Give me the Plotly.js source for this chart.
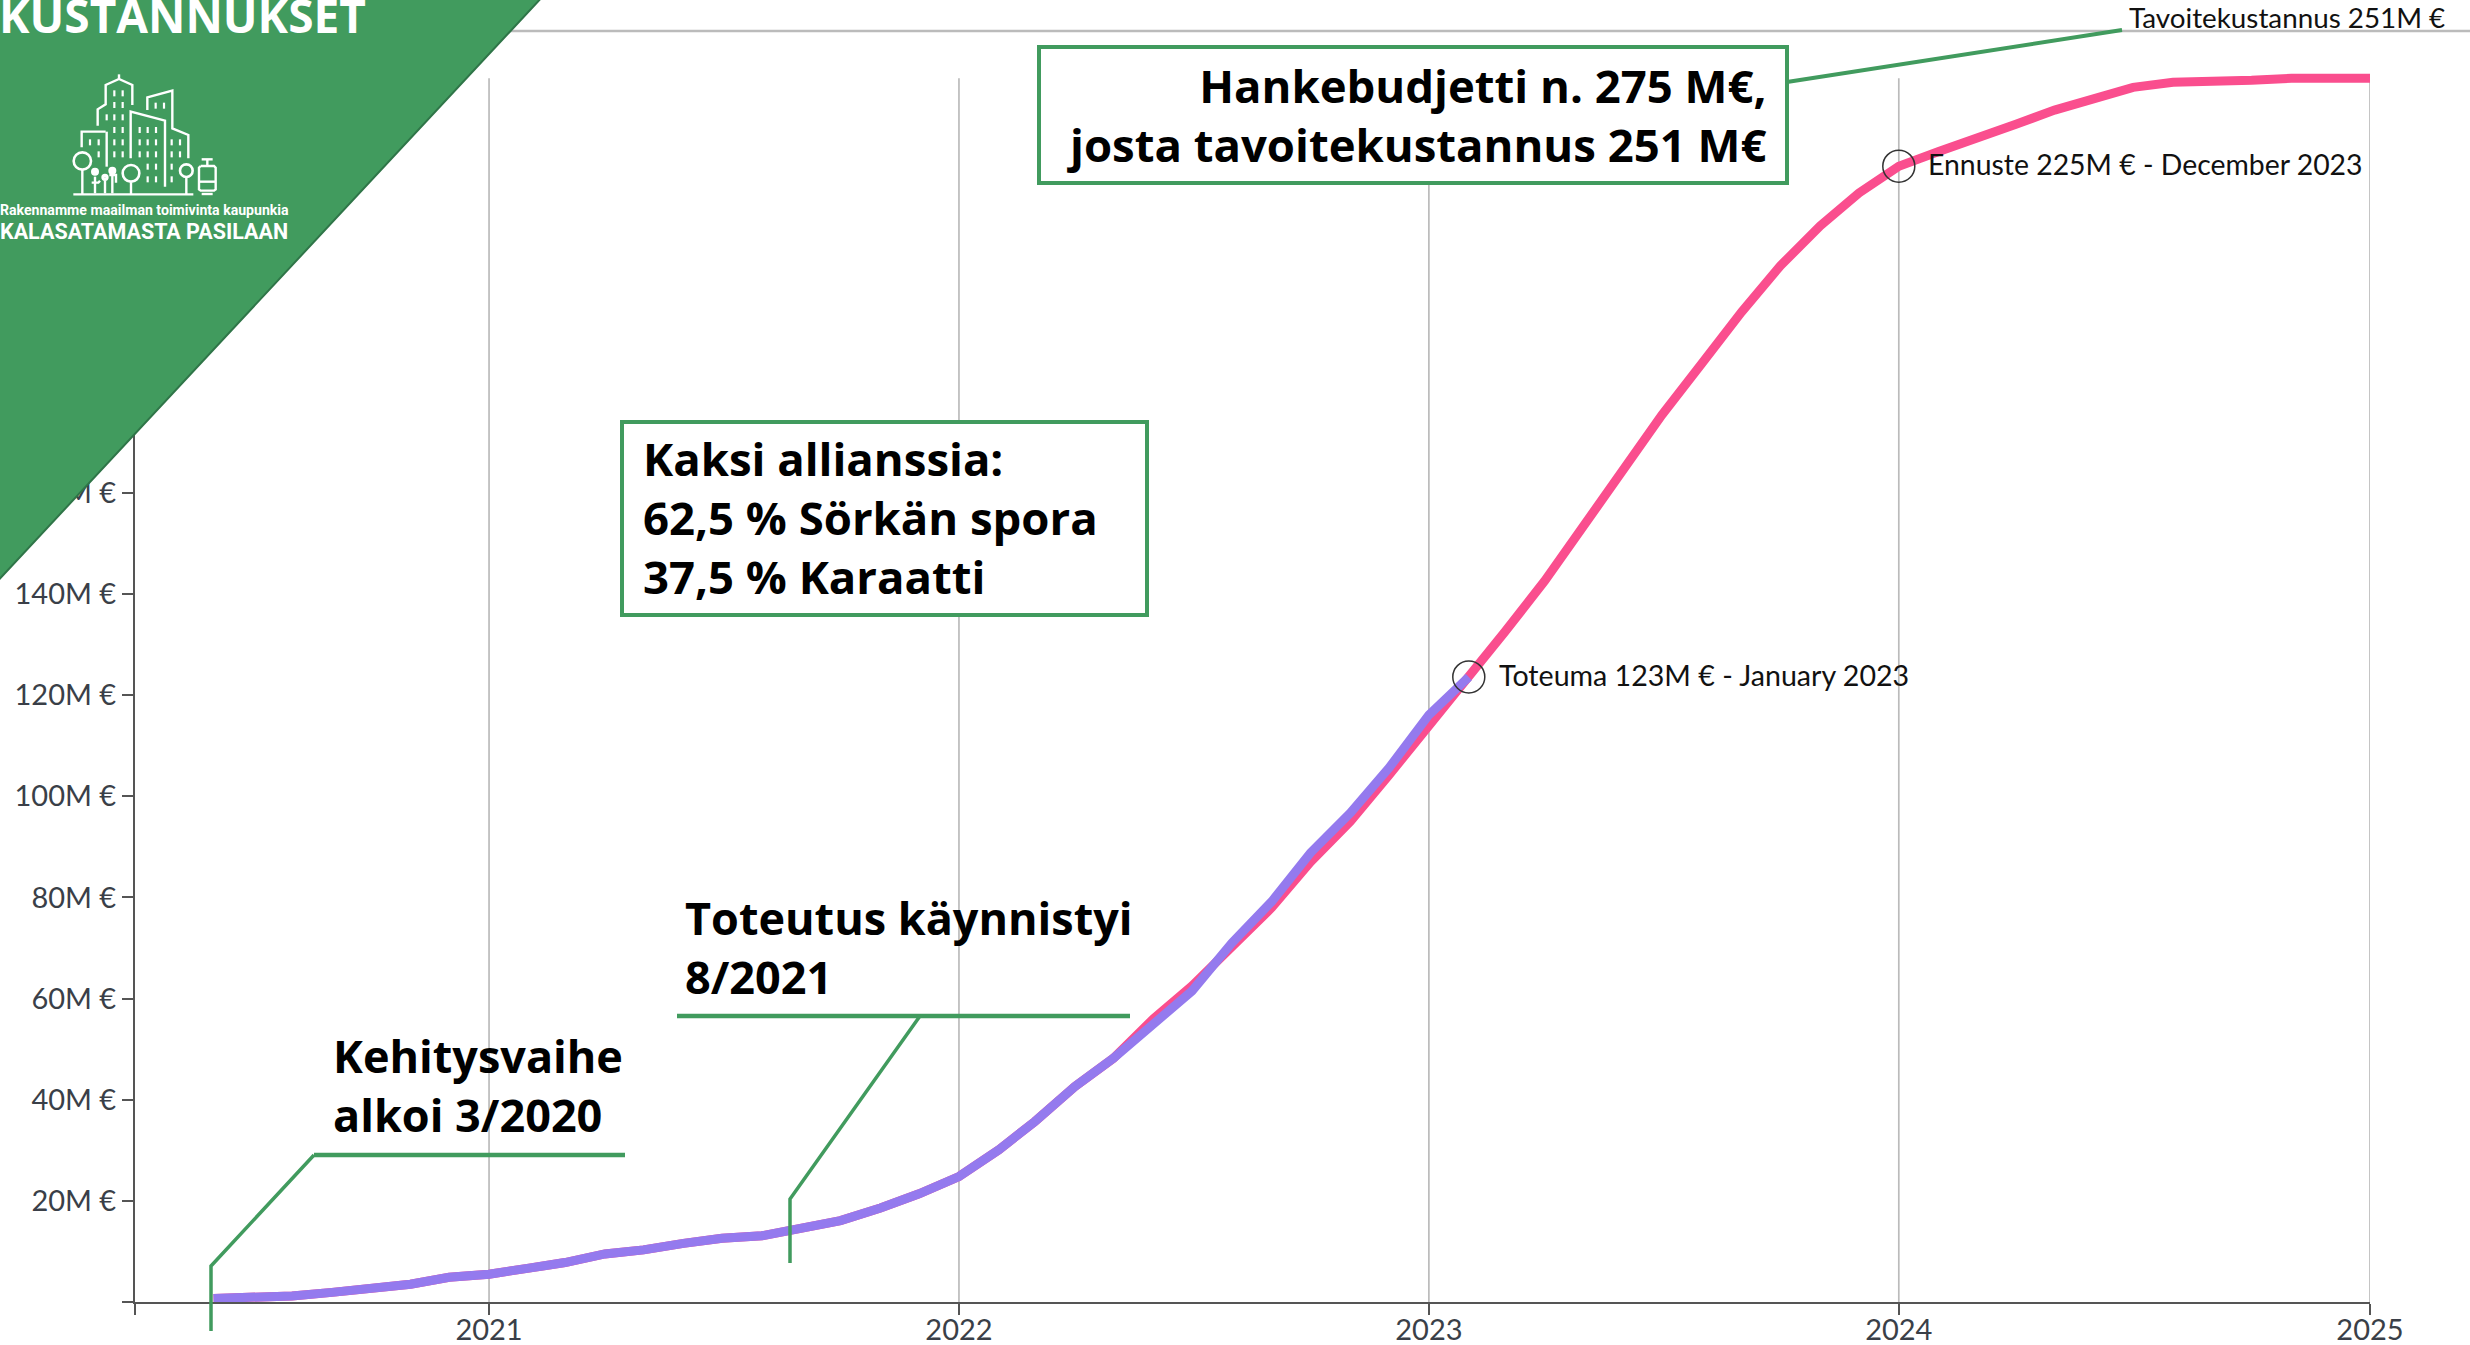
<!DOCTYPE html>
<html><head><meta charset="utf-8">
<script src="https://cdn.plot.ly/plotly-3.0.1.min.js"></script>
<style>html,body{margin:0;padding:0;background:#fff;overflow:hidden}#c{width:2470px;height:1345px}</style>
</head><body><div id="c"></div>
<script>
// ---- data (M€) ----
const months = ['2020-06-01','2020-07-01','2020-08-01','2020-09-01','2020-10-01','2020-11-01','2020-12-01',
'2021-01-01','2021-02-01','2021-03-01','2021-04-01','2021-05-01','2021-06-01','2021-07-01','2021-08-01','2021-09-01','2021-10-01','2021-11-01','2021-12-01',
'2022-01-01','2022-02-01','2022-03-01','2022-04-01','2022-05-01','2022-06-01','2022-07-01','2022-08-01','2022-09-01','2022-10-01','2022-11-01','2022-12-01',
'2023-01-01','2023-02-01','2023-03-01','2023-04-01','2023-05-01','2023-06-01','2023-07-01','2023-08-01','2023-09-01','2023-10-01','2023-11-01','2023-12-01',
'2024-01-01','2024-02-01','2024-03-01','2024-04-01','2024-05-01','2024-06-01','2024-07-01','2024-08-01','2024-09-01','2024-10-01','2024-11-01','2024-12-01','2025-01-01'];
const toteuma = [0.7,0.9,1.2,1.9,2.5,3.5,4.9,
5.5,6.7,7.8,9.5,10.3,11.6,12.6,13.1,14.4,16.1,18.6,21.4,
24.8,30.1,35.7,42.6,48.2,55.1,61.5,71,79.2,88.8,96.7,105.6,
116.1,123.6];
const ennuste = [0.7,0.9,1.2,1.9,2.5,3.5,4.9,
5.5,6.7,7.8,9.5,10.3,11.6,12.6,13.1,14.4,16.1,18.6,21.4,
24.8,30.1,35.7,42.6,48.2,56,62.5,70,78,87,95,104.2,
113.8,123.6,132.5,142.6,153.6,164.8,175.4,185.6,195.8,204.9,212.8,219.3,
224.6,227.5,230.3,232.9,235.7,238.1,240.2,241.2,241.3,241.6,242,242,242];
const yTickVals = [0,20,40,60,80,100,120,140,160,180,200,220,240];
const yTickText = ['','20M €','40M €','60M €','80M €','100M €','120M €','140M €','160M €','180M €','200M €','220M €','240M €'];
const xTickVals = ['2020-04-01','2021-01-01','2022-01-01','2023-01-01','2024-01-01','2025-01-01'];
const xTickText = ['','2021','2022','2023','2024','2025'];
const yearLines = ['2021-01-01','2022-01-01','2023-01-01','2024-01-01','2025-01-01'];
const toteumaPoint = {x:'2023-02-01', y:123.6, label:'Toteuma 123M € - January 2023'};
const ennustePoint = {x:'2024-01-01', y:224.6, label:'Ennuste 225M € - December 2023'};

// ---- layout geometry ----
const WW=2470,HH=1345,L=135,R=2370,T=31,B=1302;
const PW=R-L,PH=B-T;
const GREEN='#419B5E',GREEND='#2F7548',PINK='#FA4E8E',PURPLE='#947AEE',GREY='#BBBBBB',AX='#555555';
const TICKF='Lato, sans-serif', BOLD='"Open Sans", sans-serif';
const px=x=>(x-L)/PW, py=y=>1-(y-T)/PH;
const poly=(pts,close)=>'M'+pts.map(p=>px(p[0])+','+py(p[1])).join('L')+(close?'Z':'');
const pshape=(pts,color,w,extra)=>Object.assign({type:'path',xref:'paper',yref:'paper',path:poly(pts,false),line:{color:color,width:w},layer:'above'},extra||{});
const rect=(x0,y0,x1,y1,o)=>Object.assign({type:'rect',xref:'paper',yref:'paper',x0:px(x0),x1:px(x1),y0:py(y1),y1:py(y0),layer:'above'},o);

const shapes=[];
// year gridlines, stopping just above the curve's top
yearLines.forEach(d=>shapes.push({type:'line',xref:'x',yref:'y',x0:d,x1:d,y0:0,y1:242,line:{color:GREY,width:1.7},layer:'below'}));
// top target line
shapes.push(pshape([[500,31],[2470,31]],GREY,2.5,{layer:'below'}));
// corner triangle
shapes.push({type:'path',xref:'paper',yref:'paper',path:poly([[-6,-6],[545,-6],[-6,585]],true),fillcolor:GREEN,line:{color:GREEND,width:2},layer:'above'});
// callouts
shapes.push(pshape([[211,1331],[211,1266],[314,1155]],GREEN,3.5));
shapes.push(pshape([[314,1155],[625,1155]],GREEN,4.5));
shapes.push(pshape([[790,1263],[790,1199],[920,1016]],GREEN,3.5));
shapes.push(pshape([[677,1016],[1130,1016]],GREEN,4.5));
shapes.push(pshape([[1787,82],[2122,30]],GREEN,4));
shapes.push(rect(1039,47,1787,183,{fillcolor:'#FFFFFF',line:{color:GREEN,width:4}}));
shapes.push(rect(622,422,1147,615,{fillcolor:'#FFFFFF',line:{color:GREEN,width:4}}));

// ---- logo, in zoomed logo units ----
const lg=(x,y)=>[60+x/3,60+y/3];
const logoLines=[
 [[40,403],[400,403]],
 [[113,197],[113,148],[137,133],[137,75],[177,57],[217,75],[217,135]],[[177,43],[177,57]],
 [[65,262],[65,215],[137,215]],[[140,215],[140,320]],
 [[262,150],[262,112],[337,92],[337,205],[385,225],[385,295]],
 [[212,295],[212,155],[315,182],[315,380]],
 [[67,330],[67,403]],[[213,367],[213,403]],[[379,352],[379,403]],
 [[422,318],[462,318],[467,323],[467,388],[462,392],[422,392],[417,388],[417,323],[422,318]],
 [[425,298],[458,298]],[[442,298],[442,318]],[[417,365],[467,365]],[[425,402],[458,402]],
 [[105,350],[105,400]],[[157,345],[157,400]],[[135,362],[135,400]],[[95,368],[115,368],[120,362]],[[148,345],[168,345],[168,368]]
];
logoLines.forEach(l=>shapes.push(pshape(l.map(p=>lg(p[0],p[1])),'#FFFFFF',2.4)));
const logoWindows=[[163,100],[188,100],[163,135],[188,135],[140,172],[163,172],[188,172],[163,210],[188,210],[163,247],[188,247],[163,283],[188,283],
 [239,210],[263,210],[288,210],[239,247],[263,247],[288,247],[239,283],[263,283],[288,283],[263,320],[288,320],[263,358],[288,358],
 [90,247],[116,247],[116,283],[335,247],[360,247],[335,283],[360,283],[335,320],[335,358],[287,137],[312,137]];
logoWindows.forEach(w=>shapes.push(pshape([lg(w[0],w[1]-9),lg(w[0],w[1]+9)],'#FFFFFF',2.2)));
const logoRings=[[67,303,26],[213,340,25],[379,332,19],[105,335,6],[157,332,6],[135,352,5]];
logoRings.forEach(r=>{const a=lg(r[0]-r[2],r[1]-r[2]),b=lg(r[0]+r[2],r[1]+r[2]);
 shapes.push({type:'circle',xref:'paper',yref:'paper',x0:px(a[0]),x1:px(b[0]),y0:py(b[1]),y1:py(a[1]),line:{color:'#FFFFFF',width:r[2]<10?4:2.6},fillcolor:'rgba(0,0,0,0)',layer:'above'});});

// ---- texts ----
const note=(x,y,text,size,color,family,anchor,yan,extra)=>Object.assign({xref:'paper',yref:'paper',x:px(x),y:py(y),text:text,showarrow:false,
  xanchor:anchor,yanchor:yan||'middle',align:anchor,borderpad:0,font:{size:size,color:color,family:family}},extra||{});
const annotations=[
 note(-2,15,'<b>KUSTANNUKSET</b>',46,'#FFFFFF',BOLD,'left'),
 note(-1,210,'<b>Rakennamme maailman toimivinta kaupunkia</b>',14.1,'#FFFFFF','Roboto, sans-serif','left'),
 note(-1,231,'<b>KALASATAMASTA PASILAAN</b>',21.5,'#FFFFFF','Roboto, sans-serif','left'),
 note(1767,115,'<b>Hankebudjetti n. 275 M€,<br>josta tavoitekustannus 251 M€</b>',45.5,'#000000',BOLD,'right'),
 note(642,517,'<b>Kaksi allianssia:<br>62,5 % Sörkän spora<br>37,5 % Karaatti</b>',45.5,'#000000',BOLD,'left'),
 note(684,947,'<b>Toteutus käynnistyi<br>8/2021</b>',45,'#000000',BOLD,'left'),
 note(332,1085,'<b>Kehitysvaihe<br>alkoi 3/2020</b>',45,'#000000',BOLD,'left'),
 note(2128,18,'Tavoitekustannus 251M €',27.8,'#111111',TICKF,'left'),
 {x:toteumaPoint.x,y:toteumaPoint.y,xref:'x',yref:'y',text:toteumaPoint.label,showarrow:false,xanchor:'left',yanchor:'middle',xshift:29,yshift:2,borderpad:0,font:{size:28.6,color:'#111111',family:TICKF}},
 {x:ennustePoint.x,y:ennustePoint.y,xref:'x',yref:'y',text:ennustePoint.label,showarrow:false,xanchor:'left',yanchor:'middle',xshift:28,yshift:2,borderpad:0,font:{size:28.4,color:'#111111',family:TICKF}}
];

const traces=[
 {x:months,y:ennuste,type:'scatter',mode:'lines',line:{color:PINK,width:9,shape:'linear'},hoverinfo:'skip',cliponaxis:false},
 {x:months.slice(0,toteuma.length),y:toteuma,type:'scatter',mode:'lines',line:{color:PURPLE,width:9,shape:'linear'},hoverinfo:'skip',cliponaxis:false},
 {x:[toteumaPoint.x,ennustePoint.x],y:[toteumaPoint.y,ennustePoint.y],type:'scatter',mode:'markers',
  marker:{symbol:'circle-open',size:32,line:{color:'#333333',width:1.5},color:'#333333'},hoverinfo:'skip',cliponaxis:false}
];

const layout={
 width:WW,height:HH,margin:{l:L,r:WW-R,t:T,b:HH-B,pad:0},showlegend:false,
 paper_bgcolor:'#FFFFFF',plot_bgcolor:'#FFFFFF',
 xaxis:{type:'date',range:['2020-04-01','2025-01-01'],tickmode:'array',tickvals:xTickVals,ticktext:xTickText,showgrid:false,zeroline:false,automargin:false,
   showline:true,linecolor:AX,linewidth:2,ticks:'outside',ticklen:11,tickwidth:2,tickcolor:AX,ticklabelstandoff:-10,tickfont:{family:TICKF,size:29,color:'#3A3F48'},tickangle:0},
 yaxis:{range:[0,PH/5.057],tickmode:'array',tickvals:yTickVals,ticktext:yTickText,showgrid:false,zeroline:false,automargin:false,
   showline:true,linecolor:AX,linewidth:2,ticks:'outside',ticklen:11,tickwidth:2,tickcolor:AX,tickfont:{family:TICKF,size:29,color:'#3A3F48'}},
 shapes:shapes,annotations:annotations
};
Plotly.newPlot('c',traces,layout,{displayModeBar:false,staticPlot:true});
</script></body></html>
